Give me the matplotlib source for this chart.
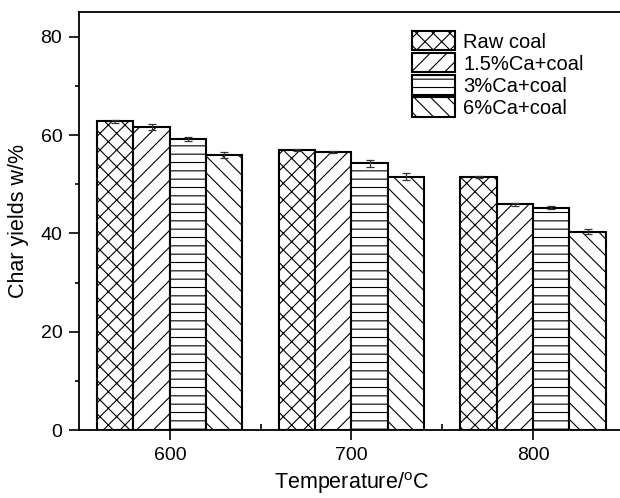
import matplotlib
matplotlib.use("Agg")
import matplotlib.pyplot as plt
import numpy as np

plt.rcParams['font.family'] = ['Liberation Sans', 'DejaVu Sans']
plt.rcParams['hatch.linewidth'] = 0.8
plt.rcParams['hatch.color'] = '#444444'

temps = [600, 700, 800]
labels = ['Raw coal', '1.5%Ca+coal', '3%Ca+coal', '6%Ca+coal']
raw = [62.8, 57.0, 51.5]
ca15 = [61.6, 56.5, 45.9]
ca3 = [59.2, 54.3, 45.2]
ca6 = [56.0, 51.5, 40.3]
raw_err = [0.3, 0.2, 0.2]
ca15_err = [0.6, 0.2, 0.3]
ca3_err = [0.5, 0.7, 0.3]
ca6_err = [0.6, 0.7, 0.5]

series = [raw, ca15, ca3, ca6]
errs = [raw_err, ca15_err, ca3_err, ca6_err]
hatches = ['xx', '//', '--', '\\\\']

fig = plt.figure(figsize=(6.2, 4.98), dpi=100)
ax = fig.add_axes([0.1274, 0.1365, 0.879, 0.839])

w = 20
x = np.array(temps)
for i in range(4):
    pos = x + (i - 1.5) * w
    ax.bar(pos, series[i], width=w, facecolor='white', edgecolor='black',
           linewidth=1.5, hatch=hatches[i], label=labels[i], zorder=2)
    ax.errorbar(pos, series[i], yerr=errs[i], fmt='none', ecolor='#333333',
                elinewidth=0.9, capsize=3, capthick=0.9, zorder=3)

ax.set_xlim(550, 850)
ax.set_ylim(0, 85)
ax.set_xticks(temps)
ax.set_xticks([650, 750], minor=True)
ax.set_yticks([0, 20, 40, 60, 80])
ax.set_yticks([10, 30, 50, 70], minor=True)
ax.tick_params(axis='both', which='major', labelsize=14, length=7, width=1.2,
               direction='out', pad=5)
ax.tick_params(axis='y', which='minor', length=3, width=1.2, direction='out')
ax.tick_params(axis='x', which='minor', length=4, width=1.2, direction='in')
for s in ax.spines.values():
    s.set_linewidth(1.3)

ax.set_xlabel('Temperature/$\\mathregular{^{o}}$C', fontsize=15.5, labelpad=5)
ax.set_ylabel('Char yields w/%', fontsize=15.5, labelpad=8)

ax.legend(loc='upper left', bbox_to_anchor=(0.611, 0.955), frameon=False,
          fontsize=14.5, handlelength=2.14, handleheight=1.1, labelspacing=0.08,
          handletextpad=0.4, borderaxespad=0, borderpad=0)

fig.savefig('out.png', dpi=100)
